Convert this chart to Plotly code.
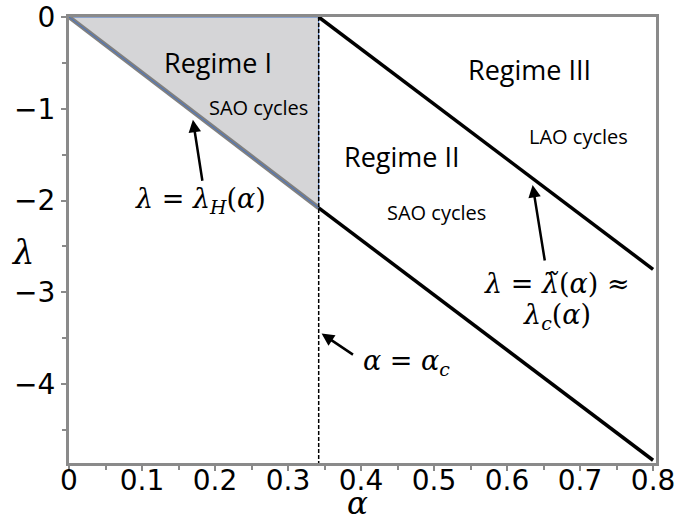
import plotly.graph_objects as go

# Data
alpha_c = 0.342
alpha_H = [0.0, 0.342]
lam_H = [0.0, -2.08]
alpha_lower = [0.342, 0.8]
lam_lower = [-2.08, -4.83]
alpha_tilde = [0.342, 0.8]
lam_tilde = [0.0, -2.75]
tri_alpha = [0.0, 0.342, 0.342, 0.0]
tri_lam = [0.0, 0.0, -2.08, 0.0]
dash_alpha = [0.342, 0.342]
dash_lam = [0.0, -4.86]

x_tickvals = [0, 0.1, 0.2, 0.3, 0.4, 0.5, 0.6, 0.7, 0.8]
x_ticktext = ["0", "0.1", "0.2", "0.3", "0.4", "0.5", "0.6", "0.7", "0.8"]
y_tickvals = [0, -1, -2, -3, -4]
y_ticktext = ["0", "−1", "−2", "−3", "−4"]

fig = go.Figure()
fig.add_trace(go.Scatter(x=tri_alpha, y=tri_lam, mode="lines", fill="toself",
                         fillcolor="#d5d5d7", line=dict(color="#4472c4", width=1),
                         hoverinfo="skip", showlegend=False))
fig.add_trace(go.Scatter(x=alpha_H, y=lam_H, mode="lines",
                         line=dict(color="#808080", width=4.5), showlegend=False))
fig.add_trace(go.Scatter(x=alpha_H, y=lam_H, mode="lines",
                         line=dict(color="#4472c4", width=1), showlegend=False))
fig.add_trace(go.Scatter(x=dash_alpha, y=dash_lam, mode="lines",
                         line=dict(color="black", width=1.5, dash="4px,2px"), showlegend=False))
fig.add_trace(go.Scatter(x=alpha_lower, y=lam_lower, mode="lines",
                         line=dict(color="black", width=3.5), showlegend=False))
fig.add_trace(go.Scatter(x=alpha_tilde, y=lam_tilde, mode="lines",
                         line=dict(color="black", width=3.5), showlegend=False))

txt_font = dict(family="Open Sans", color="black")
math_font = dict(family="DejaVu Serif", color="black", size=27)

annotations = [
    dict(x=0.204, y=-0.495, text="Regime I", font=dict(size=27, **txt_font)),
    dict(x=0.26, y=-0.99, text="SAO cycles", font=dict(size=20, **txt_font)),
    dict(x=0.456, y=-1.52, text="Regime II", font=dict(size=27, **txt_font)),
    dict(x=0.631, y=-0.57, text="Regime III", font=dict(size=27, **txt_font)),
    dict(x=0.698, y=-1.30, text="LAO cycles", font=dict(size=20, **txt_font)),
    dict(x=0.504, y=-2.13, text="SAO cycles", font=dict(size=20, **txt_font)),
    dict(x=0.18, y=-2.0, text="<i>λ</i> = <i>λ</i><sub><i>H</i></sub>(<i>α</i>)", font=math_font),
    dict(x=0.668, y=-2.90, text="<i>λ</i> = <i>λ̃</i>(<i>α</i>) ≈", font=math_font),
    dict(x=0.668, y=-3.26, text="<i>λ</i><sub><i>c</i></sub>(<i>α</i>)", font=math_font),
    dict(x=0.4625, y=-3.76, text="<i>α</i> = <i>α</i><sub><i>c</i></sub>", font=math_font),
]
for a in annotations:
    a.update(xref="x", yref="y", showarrow=False)

arrows = [
    dict(x=0.1697, y=-1.12, ax=0.183, ay=-1.80),
    dict(x=0.635, y=-1.83, ax=0.652, ay=-2.67),
    dict(x=0.346, y=-3.45, ax=0.391, ay=-3.69),
]
for a in arrows:
    a.update(xref="x", yref="y", axref="x", ayref="y", text="", showarrow=True,
             arrowhead=2, arrowsize=1, arrowwidth=2.5, arrowcolor="black")
    annotations.append(a)

annotations.append(dict(xref="paper", yref="paper", x=-0.078, y=0.474, text="<i>λ</i>",
                        xanchor="center", yanchor="middle",
                        showarrow=False, font=dict(family="DejaVu Serif", size=34, color="black")))
annotations.append(dict(xref="paper", yref="paper", x=0.492, y=-0.1345, text="<i>α</i>",
                        xanchor="center", yanchor="bottom",
                        showarrow=False, font=dict(family="DejaVu Serif", size=31, color="black")))

axis_common = dict(showline=True, linecolor="#8a8a8a", linewidth=3, mirror=True,
                   showgrid=False, zeroline=False, ticks="outside", ticklen=5,
                   tickcolor="#8a8a8a", tickwidth=2, automargin=False,
                   tickfont=dict(family="DejaVu Sans", size=28, color="black"))

fig.update_layout(
    template="none",
    width=683, height=523,
    margin=dict(l=69, r=27, t=17, b=60),
    plot_bgcolor="white", paper_bgcolor="white",
    showlegend=False,
    annotations=annotations,
    xaxis=dict(range=[0, 0.804], tickvals=x_tickvals, ticktext=x_ticktext,
               ticklabelstandoff=-15,
               minor=dict(dtick=0.05, ticks="outside", ticklen=4, tickcolor="#8a8a8a", tickwidth=2),
               **axis_common),
    yaxis=dict(range=[-4.86, 0.0], tickvals=y_tickvals, ticktext=y_ticktext,
               minor=dict(dtick=0.5, ticks="outside", ticklen=4, tickcolor="#8a8a8a", tickwidth=2),
               **axis_common),
)

fig.write_html("out.html", config={"displayModeBar": False},
               post_script="document.body.style.margin='0';document.body.style.overflow='hidden';")
